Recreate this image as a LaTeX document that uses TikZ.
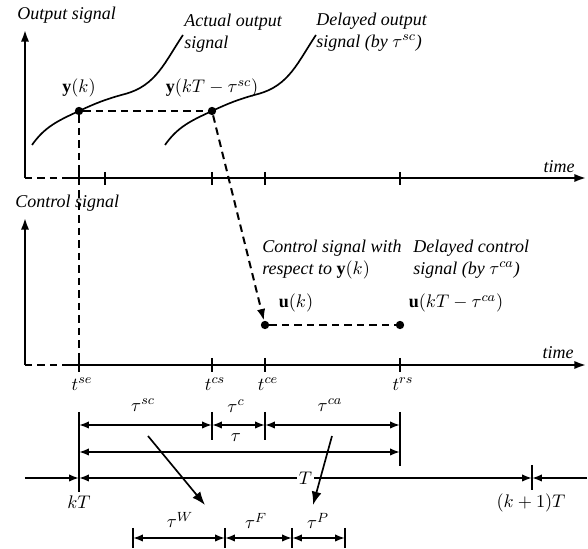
\documentclass[tikz,border=0pt]{standalone}
\usepackage{fontspec}
\setmainfont{Liberation Serif}
\usetikzlibrary{arrows.meta}

\tikzset{
  axis/.style={line width=1.2pt, -{Latex[length=7pt,width=5pt]}},
  dashline/.style={line width=1.2pt, dash pattern=on 4.5pt off 3pt},
  span/.style={line width=1pt, {Latex[length=6pt,width=4.5pt]}-{Latex[length=6pt,width=4.5pt]}},
  bar/.style={line width=1.2pt},
  sig/.style={line width=1pt},
  lbl/.style={font=\itshape, align=left, inner sep=0pt, anchor=west},
  dot/.style={circle, fill, inner sep=0pt, minimum size=5pt},
}

\begin{document}
\fontsize{10.8}{13}\selectfont
\begin{tikzpicture}[x=0.6pt, y=-0.6pt]
  \useasboundingbox (0,0) rectangle (588,549);

  % Output signal axes
  \coordinate (oorig) at (25,178);
  \coordinate (ostart) at (65,178);
  \draw[axis] (oorig) -- (25,30);
  \draw[dashline] (oorig) -- (ostart);
  \draw[axis] (ostart) -- (586,178);
  \foreach \x in {79,105,212,265,400}
    \draw[bar] (\x,172) -- (\x,185);
  \node[lbl] (outlbl) at (17,15) {Output signal};
  \node[font=\itshape] (otime) at (559,167) {time};

  % Actual and delayed output curves
  \draw[sig] (32,145) to[out=55,in=205] (79,111) to[out=25,in=195] (125,94)
    to[out=15,in=236] (183,35);
  \draw[sig] (165,145) to[out=55,in=205] (212,111) to[out=25,in=195] (258,94)
    to[out=15,in=236] (316,35);
  \node[lbl] (actual) at (184,33) {Actual output\\signal};
  \node[lbl] (delayed) at (316,32) {Delayed output\\signal (by $\tau^{sc}$)};

  % Samples
  \node[dot] (yk) at (79,111) {};
  \node[dot] (ykd) at (212,111) {};
  \node (yklbl) at (79,88) {$\mathbf{y}\bigl(k\bigr)$};
  \node (ykdlbl) at (212,88) {$\mathbf{y}\bigl(kT-\tau^{sc}\bigr)$};

  % Control signal axes
  \coordinate (corig) at (25,365);
  \coordinate (cstart) at (65,365);
  \draw[axis] (corig) -- (25,218);
  \draw[dashline] (corig) -- (cstart);
  \draw[axis] (cstart) -- (586,365);
  \foreach \x in {79,212,265,400}
    \draw[bar] (\x,358) -- (\x,372);
  \node[lbl] (ctllbl) at (15,203) {Control signal};
  \node[font=\itshape] (ctime) at (558,353) {time};

  % Tick labels
  \node (tse) at (82,384) {$t^{se}$};
  \node (tcs) at (215,384) {$t^{cs}$};
  \node (tce) at (268,384) {$t^{ce}$};
  \node (trs) at (403,384) {$t^{rs}$};

  % Control samples
  \node[dot] (uk) at (265,325) {};
  \node[dot] (ukd) at (400,325) {};
  \node (uklbl) at (296,303) {$\mathbf{u}\bigl(k\bigr)$};
  \node (ukdlbl) at (456,303) {$\mathbf{u}\bigl(kT-\tau^{ca}\bigr)$};
  \node[lbl] (resp1) at (262,248) {Control signal with};
  \node[lbl] (resp2) at (262,270) {respect to $\mathbf{y}\bigl(k\bigr)$};
  \node[lbl] (delctl1) at (413,248) {Delayed control};
  \node[lbl] (delctl2) at (413,270) {signal (by $\tau^{ca}$)};

  % Dashed connections
  \coordinate (sedown) at (79,365);
  \draw[dashline] (yk) -- (ykd);
  \draw[dashline] (yk) -- (sedown);
  \draw[dashline, -{Latex[length=7pt,width=5pt]}] (ykd) -- (uk);
  \draw[dashline] (uk) -- (ukd);

  % Timing bars
  \draw[bar] (79,412) -- (79,492);
  \draw[bar] (212,412) -- (212,440);
  \draw[bar] (265,412) -- (265,440);
  \draw[bar] (400,412) -- (400,466);
  \draw[bar] (532,465) -- (532,490);

  % Delay intervals
  \coordinate (a0) at (79,425);
  \coordinate (a1) at (212,425);
  \coordinate (a2) at (265,425);
  \coordinate (a3) at (400,425);
  \draw[span] (a0) -- (a1);
  \draw[span] (a1) -- (a2);
  \draw[span] (a2) -- (a3);
  \node (tausc) at (143,405) {$\tau^{sc}$};
  \node (tauc) at (236,406) {$\tau^{c}$};
  \node (tau) at (236,438) {$\tau$};
  \node (tauca) at (330,405) {$\tau^{ca}$};

  \coordinate (b0) at (79,452);
  \coordinate (b1) at (400,452);
  \draw[span] (b0) -- (b1);

  % Sampling period
  \coordinate (pl) at (25,478);
  \coordinate (p0) at (79,478);
  \coordinate (p1) at (532,478);
  \coordinate (pr) at (587,478);
  \draw[line width=1pt, -{Latex[length=6pt,width=4.5pt]}] (pl) -- (p0);
  \draw[span] (p0) -- node[fill=white, inner sep=1pt, font=\itshape] (per) {$T$} (p1);
  \draw[line width=1pt, -{Latex[length=6pt,width=4.5pt]}] (pr) -- (p1);
  \node (kT) at (79,502) {$kT$};
  \node (k1T) at (531,503) {$\bigl(k+1\bigr)T$};

  % Decomposition of delays
  \foreach \x in {133,225,292,345}
    \draw[bar] (\x,528) -- (\x,548);
  \coordinate (c0) at (133,538);
  \coordinate (c1) at (225,538);
  \coordinate (c2) at (292,538);
  \coordinate (c3) at (345,538);
  \draw[span] (c0) -- (c1);
  \draw[span] (c1) -- (c2);
  \draw[span] (c2) -- (c3);
  \node (tauW) at (180,520) {$\tau^{W}$};
  \node (tauF) at (256,521) {$\tau^{F}$};
  \node (tauP) at (318,521) {$\tau^{P}$};

  \coordinate (scsrc) at (148,436);
  \coordinate (scdst) at (205,505);
  \coordinate (casrc) at (332,436);
  \coordinate (cadst) at (313,505);
  \draw[line width=1pt, -{Latex[length=8pt,width=6pt]}] (scsrc) -- (scdst);
  \draw[line width=1pt, -{Latex[length=8pt,width=6pt]}] (casrc) -- (cadst);
\end{tikzpicture}
\end{document}
